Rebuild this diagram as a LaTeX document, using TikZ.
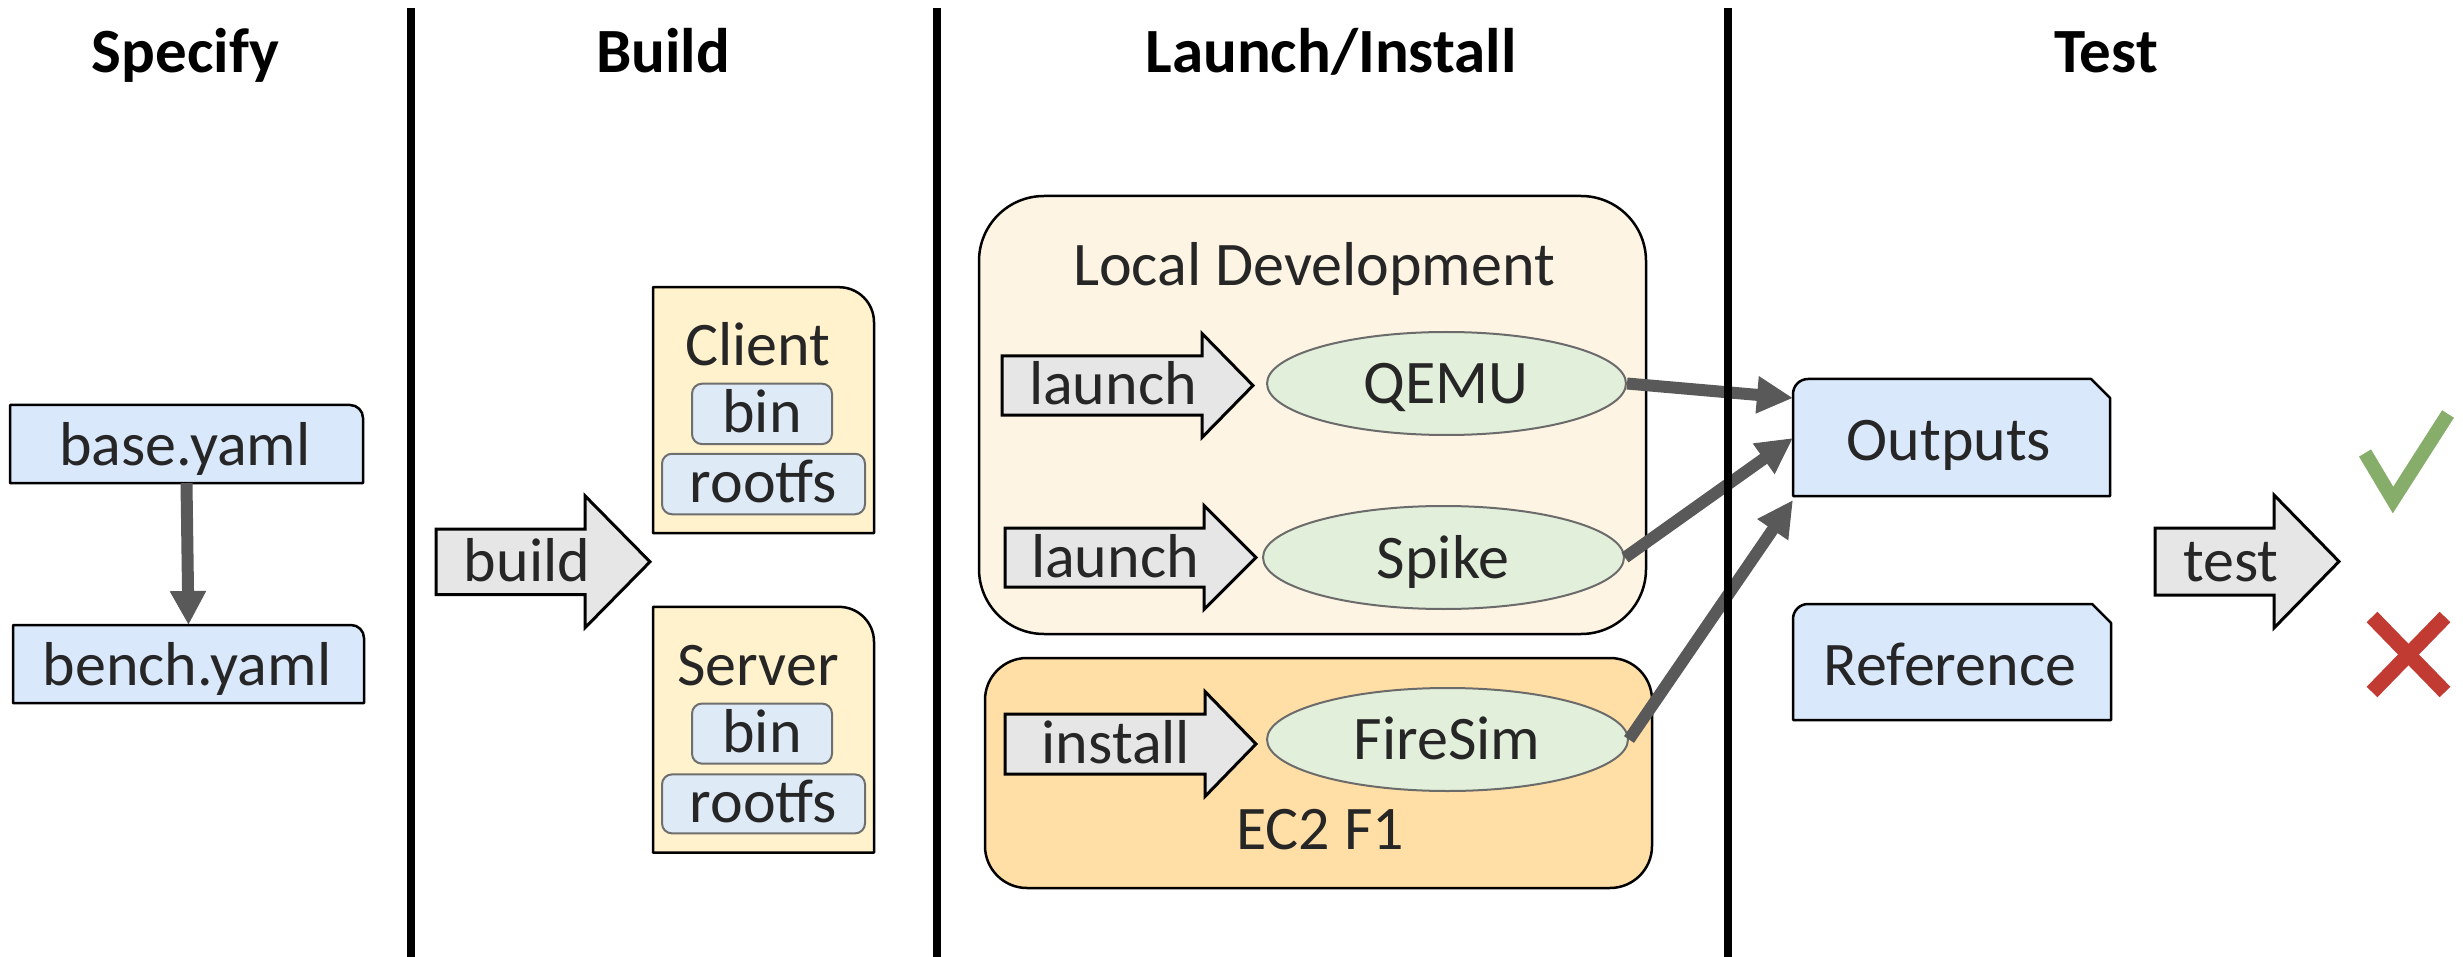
\documentclass[tikz,border=0pt]{standalone}
\usepackage{fontspec}
\setmainfont{Carlito}
\usetikzlibrary{shapes.geometric,arrows.meta,calc}
\definecolor{txtcol}{HTML}{262626}
\definecolor{boxblue}{HTML}{DAE8FC}
\definecolor{inblue}{HTML}{DEEAF6}
\definecolor{inborder}{HTML}{6E6E6E}
\definecolor{clientfill}{HTML}{FFF2CC}
\definecolor{localfill}{HTML}{FDF4E3}
\definecolor{ectwofill}{HTML}{FFDFA6}
\definecolor{ellfill}{HTML}{E2EFDA}
\definecolor{ellborder}{HTML}{6B6B6B}
\definecolor{arrowfill}{HTML}{E6E6E6}
\definecolor{conncol}{HTML}{595959}
\definecolor{checkcol}{HTML}{86AE6A}
\definecolor{crosscol}{HTML}{C23B33}
\newcommand\blockarrow[6]{%
  \draw[barrow] (#1,#4-#5) -- (#2,#4-#5) -- (#2,#4-#6) -- (#3,#4) -- (#2,#4+#6) -- (#2,#4+#5) -- (#1,#4+#5) -- cycle;}
\begin{document}
\begin{tikzpicture}[x=1pt,y=-1pt,
  frame/.style={inner sep=0pt, outer sep=0pt, draw=none},
  txt/.style={inner sep=0pt, outer sep=0pt, anchor=base, text=txtcol, font=\fontsize{62}{74}\selectfont},
  hdr/.style={inner sep=0pt, outer sep=0pt, anchor=base, text=black, font=\fontsize{63}{75}\selectfont\bfseries},
  bluebox/.style={fill=boxblue, draw=black, line width=2.5pt, line join=round},
  inbox/.style={draw=inborder, fill=inblue, line width=2pt, rounded corners=10pt, inner sep=0pt},
  yellowbox/.style={fill=clientfill, draw=black, line width=2.5pt, line join=round},
  ell/.style={ellipse, draw=ellborder, fill=ellfill, line width=2pt, inner sep=0pt},
  barrow/.style={fill=arrowfill, draw=black, line width=3pt, line join=miter},
  conn/.style={draw=conncol, line width=12pt, -{Triangle[length=36pt,width=35pt]}},
  sepline/.style={line width=8pt, draw=black}]
\useasboundingbox (0,0) rectangle (2463,957);

% headers
\node[hdr] (hSpec) at (185.5,73) {Specify};
\node[hdr] (hBuild) at (663,73) {Build};
\node[hdr] (hLaunch) at (1331,73) {Launch/Install};
\node[hdr] (hTest) at (2106,73) {Test};

% Specify column
\node[frame, minimum width=353pt, minimum height=78pt] (base) at (186.5,444) {};
\path[bluebox] (base.south west) -- (base.north west) -- ($(base.north east)+(-13,0)$) arc[start angle=90,end angle=0,radius=13pt] -- (base.south east) -- cycle;
\node[txt] (baseT) at (185,465) {base.yaml};
\node[frame, minimum width=351pt, minimum height=78pt] (bench) at (188.5,664) {};
\path[bluebox] (bench.south west) -- (bench.north west) -- ($(bench.north east)+(-13,0)$) arc[start angle=90,end angle=0,radius=13pt] -- (bench.south east) -- cycle;
\node[txt] (benchT) at (187,685) {bench.yaml};
\draw[draw=conncol, line width=12pt, -{Triangle[length=34pt,width=34pt]}] (base.south) -- (bench.north);

% Build column
\blockarrow{436}{585}{650}{561.8}{32.7}{66}
\node[txt] (buildT) at (527,581.5) {build};

\node[frame, minimum width=221pt, minimum height=246pt] (client) at (763.5,410.2) {};
\path[yellowbox] (client.south west) -- (client.north west) -- ($(client.north east)+(-35,0)$) arc[start angle=90,end angle=0,radius=35pt] -- (client.south east) -- cycle;
\node[txt] (clientT) at (758,365.5) {Client};
\node[inbox, minimum width=140pt, minimum height=60.4pt] (cbin) at (762,413.9) {};
\node[txt] (cbinT) at (762,432.6) {bin};
\node[inbox, minimum width=203pt, minimum height=60.5pt] (crootfs) at (763.5,484) {};
\node[txt] (crootfsT) at (763.5,502.7) {rootfs};

\node[frame, minimum width=221pt, minimum height=245.7pt] (server) at (763.5,729.7) {};
\path[yellowbox] (server.south west) -- (server.north west) -- ($(server.north east)+(-35,0)$) arc[start angle=90,end angle=0,radius=35pt] -- (server.south east) -- cycle;
\node[txt] (serverT) at (758,685.2) {Server};
\node[inbox, minimum width=140pt, minimum height=60.1pt] (sbin) at (762,733.6) {};
\node[txt] (sbinT) at (762,752.2) {bin};
\node[inbox, minimum width=203pt, minimum height=59pt] (srootfs) at (763.5,803.9) {};
\node[txt] (srootfsT) at (763.5,822.2) {rootfs};

% Launch/Install column
\node[draw=black, fill=localfill, line width=2.5pt, rounded corners=65pt, minimum width=667pt, minimum height=438pt, inner sep=0pt] (local) at (1312.5,415) {};
\node[txt] (localT) at (1314,286) {Local Development};
\node[draw=black, fill=ectwofill, line width=2.5pt, rounded corners=42pt, minimum width=667pt, minimum height=230pt, inner sep=0pt] (ectwo) at (1318.5,773) {};
\node[txt] (ectwoT) at (1320,849) {EC2 F1};

\blockarrow{1002}{1202}{1253}{385.5}{29.5}{52}
\node[txt] (launchAT) at (1113,404) {launch};
\blockarrow{1005}{1204}{1256}{557.5}{29.5}{52}
\node[txt] (launchBT) at (1115,577) {launch};
\blockarrow{1005}{1205}{1256}{744}{30}{52.5}
\node[txt] (installT) at (1116,763) {install};

\node[ell, minimum width=359pt, minimum height=103pt] (qemu) at (1446.5,383.5) {};
\node[txt] (qemuT) at (1446,403) {QEMU};
\node[ell, minimum width=361pt, minimum height=103pt] (spike) at (1443.5,557.5) {};
\node[txt] (spikeT) at (1443,578) {Spike};
\node[ell, minimum width=361pt, minimum height=103pt] (firesim) at (1447.5,739.5) {};
\node[txt] (firesimT) at (1447,759) {FireSim};

% Test column
\node[frame, minimum width=317pt, minimum height=117pt] (out) at (1951.5,437.5) {};
\path[bluebox] (out.south west) -- ($(out.north west)+(0,15)$) arc[start angle=180,end angle=90,radius=15pt] -- ($(out.north east)+(-19,0)$) -- ($(out.north east)+(0,19)$) -- (out.south east) -- cycle;
\node[txt] (outT) at (1949,460) {Outputs};
\node[frame, minimum width=318pt, minimum height=116pt] (ref) at (1952,662) {};
\path[bluebox] (ref.south west) -- ($(ref.north west)+(0,15)$) arc[start angle=180,end angle=90,radius=15pt] -- ($(ref.north east)+(-19,0)$) -- ($(ref.north east)+(0,19)$) -- (ref.south east) -- cycle;
\node[txt] (refT) at (1950,685) {Reference};

\blockarrow{2155}{2274}{2339}{561.5}{33.5}{66.5}
\node[txt] (testT) at (2231,581) {test};

\draw[checkcol, line width=14pt, line join=miter] (2365,453) -- (2393,500) -- (2448,414);
\draw[crosscol, line width=15pt] (2372,617) -- (2445,692);
\draw[crosscol, line width=15pt] (2445,617) -- (2372,692);

% connectors to Outputs
\coordinate (inA) at ($(out.north west)+(0,19)$);
\coordinate (inB) at ($(out.north west)+(0,59)$);
\coordinate (inC) at ($(out.south west)+(0,4)$);
\draw[conn] (qemu.east) -- (inA);
\draw[conn] (spike.east) -- (inB);
\draw[conn] (firesim.east) -- (inC);

% separators
\draw[sepline] (411,8) -- (411,957);
\draw[sepline] (937,8) -- (937,957);
\draw[sepline] (1728,8) -- (1728,957);
\end{tikzpicture}
\end{document}
